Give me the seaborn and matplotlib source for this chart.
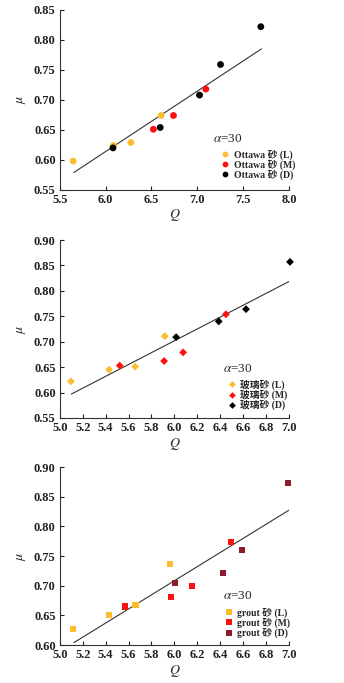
import numpy as np
import pandas as pd
import matplotlib
matplotlib.use("Agg")
import matplotlib.pyplot as plt
import seaborn as sns

sns.set_style("ticks")
plt.rcParams["font.family"] = ["Liberation Serif", "Noto Sans CJK SC"]
plt.rcParams["mathtext.fontset"] = "stix"

# ---- Ottawa sand ----
ott_L_q = [5.645, 6.085, 6.275, 6.605]
ott_L_mu = [0.598, 0.624, 0.629, 0.674]
ott_M_q = [6.52, 6.74, 7.093]
ott_M_mu = [0.651, 0.674, 0.718]
ott_D_q = [6.08, 6.595, 7.024, 7.253, 7.693]
ott_D_mu = [0.620, 0.654, 0.708, 0.759, 0.822]
ott_fit_q = [5.653, 7.70]
ott_fit_mu = [0.579, 0.785]
ott_labels = ["Ottawa 砂 (L)", "Ottawa 砂 (M)", "Ottawa 砂 (D)"]

# ---- glass sand ----
gls_L_q = [5.096, 5.43, 5.657, 5.916]
gls_L_mu = [0.622, 0.645, 0.651, 0.711]
gls_M_q = [5.523, 5.91, 6.076, 6.45]
gls_M_mu = [0.653, 0.662, 0.679, 0.754]
gls_D_q = [6.015, 6.387, 6.625, 7.009]
gls_D_mu = [0.709, 0.740, 0.764, 0.857]
gls_fit_q = [5.10, 7.023]
gls_fit_mu = [0.597, 0.821]
gls_labels = ["玻璃砂 (L)", "玻璃砂 (M)", "玻璃砂 (D)"]

# ---- grout sand ----
grt_L_q = [5.116, 5.427, 5.66, 5.962]
grt_L_mu = [0.627, 0.651, 0.667, 0.736]
grt_M_q = [5.567, 5.971, 6.154, 6.491]
grt_M_mu = [0.665, 0.681, 0.699, 0.773]
grt_D_q = [6.003, 6.422, 6.587, 6.994]
grt_D_mu = [0.705, 0.721, 0.760, 0.873]
grt_fit_q = [5.122, 7.006]
grt_fit_mu = [0.604, 0.828]
grt_labels = ["grout 砂 (L)", "grout 砂 (M)", "grout 砂 (D)"]

# ---- axis ticks ----
ott_xticks = [5.5, 6.0, 6.5, 7.0, 7.5, 8.0]
ott_yticks = [0.55, 0.60, 0.65, 0.70, 0.75, 0.80, 0.85]
gls_xticks = [5.0, 5.2, 5.4, 5.6, 5.8, 6.0, 6.2, 6.4, 6.6, 6.8, 7.0]
gls_yticks = [0.55, 0.60, 0.65, 0.70, 0.75, 0.80, 0.85, 0.90]
grt_xticks = gls_xticks
grt_yticks = [0.60, 0.65, 0.70, 0.75, 0.80, 0.85, 0.90]

ORANGE = "#FBBD2E"
RED = "#FF1010"
BLACK = "#000000"
DARKRED = "#8E1B2E"


def frame(groups, labels):
    rows = []
    for (q, mu), lab in zip(groups, labels):
        for a, b in zip(q, mu):
            rows.append({"Q": a, "mu": b, "set": lab})
    return pd.DataFrame(rows)


fig = plt.figure(figsize=(3.44, 6.83), dpi=100)

panels = [
    dict(rect=[0.174, 0.722, 0.666, 0.2635],
         groups=[(ott_L_q, ott_L_mu), (ott_M_q, ott_M_mu), (ott_D_q, ott_D_mu)],
         labels=ott_labels, colors=[ORANGE, RED, BLACK], marker="o", size=24,
         fit=(ott_fit_q, ott_fit_mu), xticks=ott_xticks, yticks=ott_yticks,
         alpha_pos=(0.668, 0.283), leg_anchor=(0.70, 0.225)),
    dict(rect=[0.174, 0.388, 0.666, 0.2606],
         groups=[(gls_L_q, gls_L_mu), (gls_M_q, gls_M_mu), (gls_D_q, gls_D_mu)],
         labels=gls_labels, colors=[ORANGE, RED, BLACK], marker="D", size=16,
         fit=(gls_fit_q, gls_fit_mu), xticks=gls_xticks, yticks=gls_yticks,
         alpha_pos=(0.712, 0.275), leg_anchor=(0.728, 0.215)),
    dict(rect=[0.174, 0.0556, 0.666, 0.2606],
         groups=[(grt_L_q, grt_L_mu), (grt_M_q, grt_M_mu), (grt_D_q, grt_D_mu)],
         labels=grt_labels, colors=[ORANGE, RED, DARKRED], marker="s", size=20,
         fit=(grt_fit_q, grt_fit_mu), xticks=grt_xticks, yticks=grt_yticks,
         alpha_pos=(0.712, 0.275), leg_anchor=(0.715, 0.21)),
]

for p in panels:
    ax = fig.add_axes(p["rect"])
    df = frame(p["groups"], p["labels"])
    fit_q, fit_mu = p["fit"]
    sns.lineplot(x=fit_q, y=fit_mu, ax=ax, color="#333333", lw=0.8, zorder=1)
    sns.scatterplot(data=df, x="Q", y="mu", hue="set", hue_order=p["labels"],
                    palette=p["colors"], marker=p["marker"], s=p["size"],
                    linewidth=0, ax=ax, zorder=3, clip_on=False)
    ax.set_xlim(p["xticks"][0], p["xticks"][-1])
    ax.set_ylim(p["yticks"][0], p["yticks"][-1])
    ax.set_xticks(p["xticks"])
    ax.set_yticks(p["yticks"])
    ax.set_xticklabels(["%.1f" % v for v in p["xticks"]], fontweight="bold")
    ax.set_yticklabels(["%.2f" % v for v in p["yticks"]], fontweight="bold")
    ax.tick_params(direction="in", length=3, width=0.8, labelsize=9,
                   colors="#222222")
    ax.tick_params(axis="x", pad=3)
    ax.tick_params(axis="y", pad=3)
    sns.despine(ax=ax)
    for s in ("left", "bottom"):
        ax.spines[s].set_linewidth(0.8)
        ax.spines[s].set_color("#333333")
    ax.set_xlabel(r"$Q$", fontsize=10, labelpad=1)
    ax.set_ylabel(r"$\mu$", fontsize=10, labelpad=4)
    ax.text(p["alpha_pos"][0], p["alpha_pos"][1], r"$\alpha$=30",
            transform=ax.transAxes, fontsize=9.5, va="center", ha="left")
    leg = ax.legend(loc="upper left", bbox_to_anchor=p["leg_anchor"],
                    frameon=False, prop={"size": 7, "weight": "bold"},
                    handletextpad=0.4, labelspacing=0.0, borderpad=0,
                    borderaxespad=0, markerscale=0.85, handlelength=1.0)

fig.savefig("out.png", dpi=100)
